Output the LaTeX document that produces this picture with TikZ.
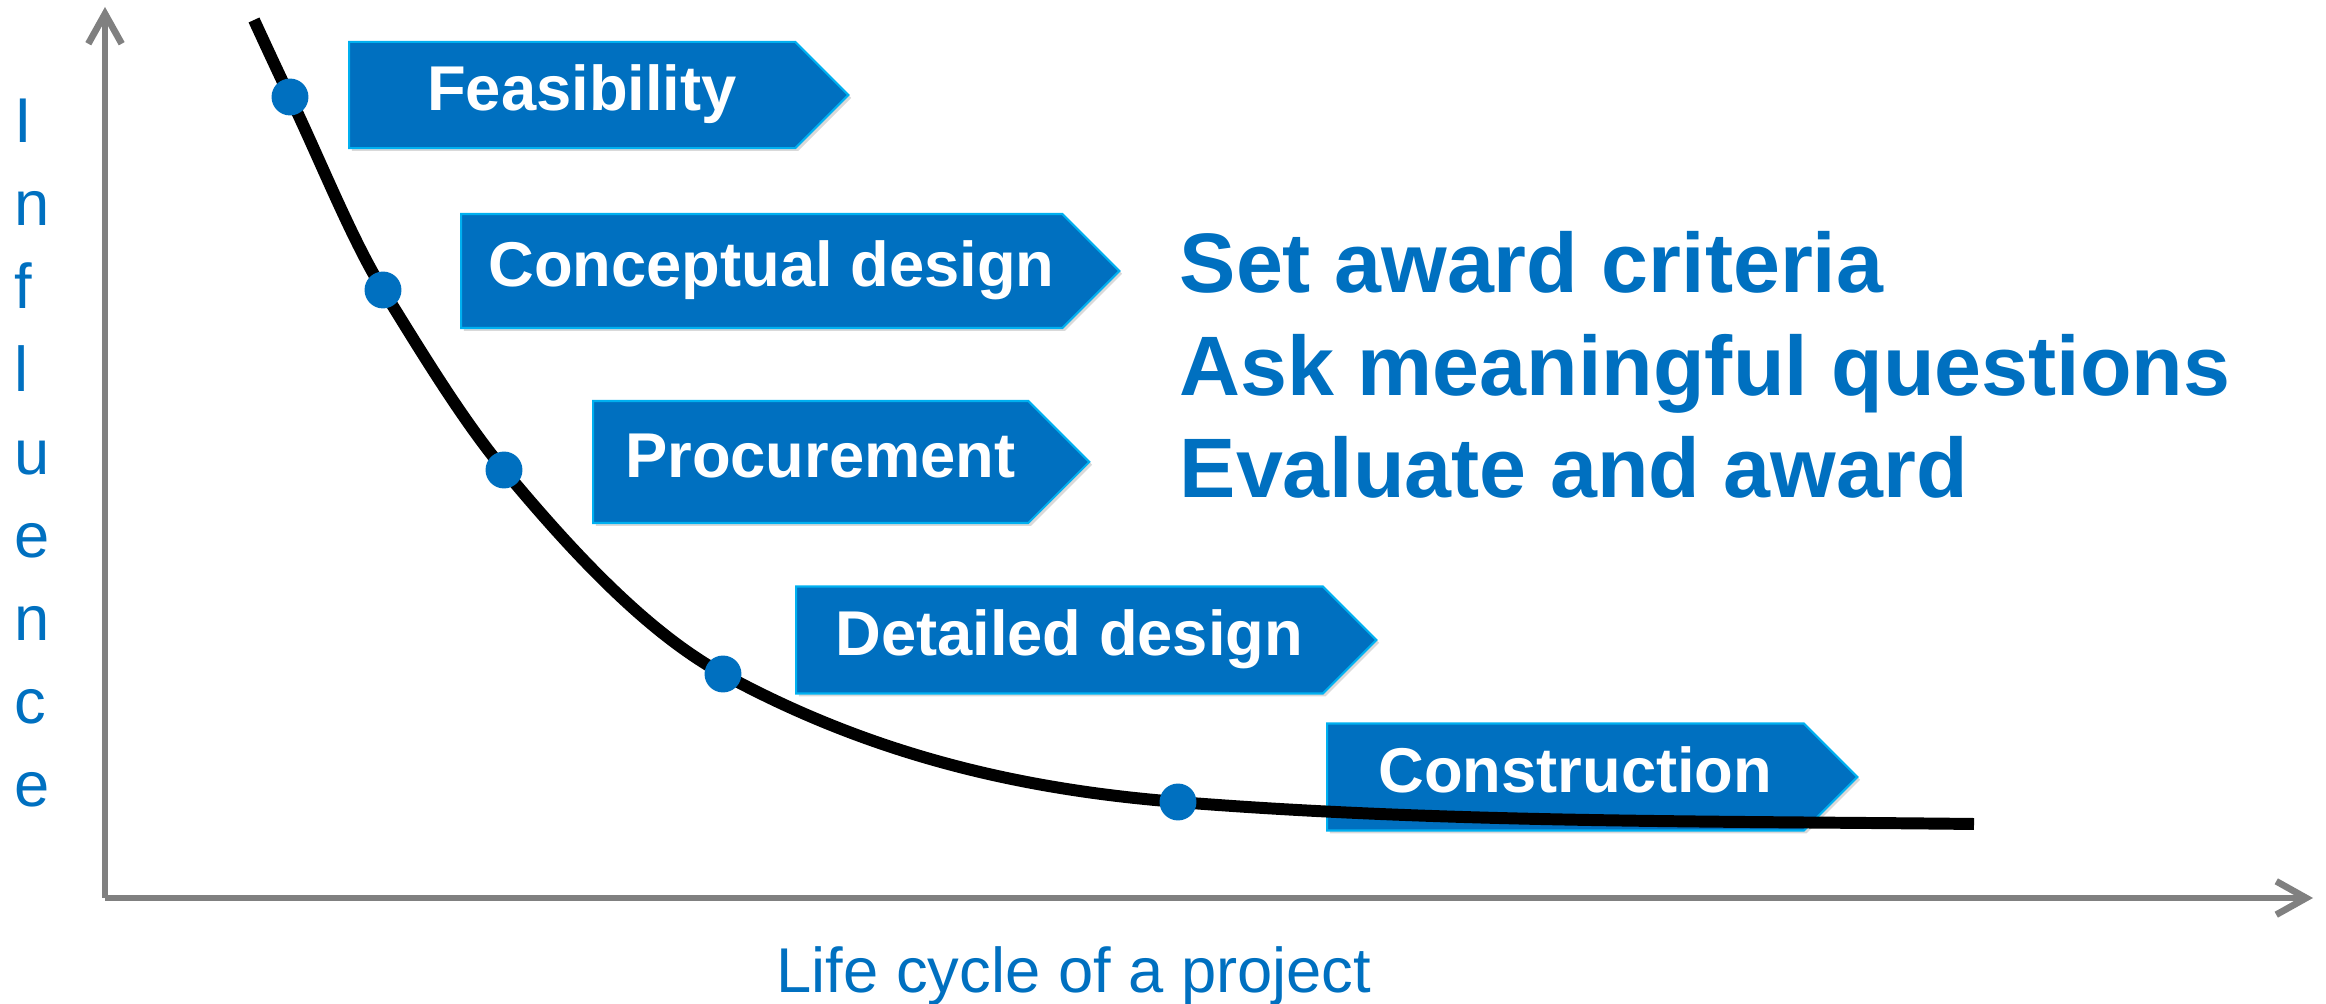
\documentclass[tikz,border=0pt]{standalone}
\usepackage{fontspec}
\setmainfont{Liberation Sans}
\usetikzlibrary{shapes.symbols,shadows,arrows.meta}
\definecolor{phaseblue}{RGB}{0,112,192}
\definecolor{phaseedge}{RGB}{0,176,240}
\definecolor{axisgray}{RGB}{128,128,128}

\begin{document}
\begin{tikzpicture}[x=0.01cm,y=-0.01cm,
  phase/.style={signal, signal to=east, signal pointer angle=90, anchor=west,
    draw=phaseedge, line width=0.6pt, fill=phaseblue, text=white,
    font=\fontsize{18}{21}\selectfont\bfseries, text height=0.88em, text depth=0em,
    inner xsep=0pt, execute at begin node=\hspace*{5.6pt},
    drop shadow={shadow xshift=0.8pt, shadow yshift=-0.8pt, opacity=0.3}},
  dot/.style={circle, fill=phaseblue, inner sep=0pt, minimum size=10.5pt},
  axis/.style={draw=axisgray, line width=1.9pt, -{Straight Barb[length=8.5pt,width=9.5pt]}},
  axislabel/.style={text=phaseblue, font=\fontsize{18}{21}\selectfont, inner sep=0pt}]
\useasboundingbox (0,0) rectangle (2326,1004);

% Axes and their labels
\coordinate (origin) at (105,898);
\coordinate (ytip) at (105,7);
\coordinate (xtip) at (2313,898);
\draw[axis] (origin) -- (ytip);
\draw[axis] (origin) -- (xtip);
\foreach \ch [count=\i from 0] in {I,n,f,l,u,e,n,c,e}
  \node[axislabel, anchor=base west] (inf\i) at (14,{143+83*\i}) {\ch};
\node[axislabel, anchor=base] (lifecycle) at (1074,993) {Life cycle of a project};

% Project phases
\node[phase, minimum width=142pt, minimum height=30.2pt] (feasibility) at (348,95) {Feasibility};
\node[phase, minimum width=187.2pt, minimum height=32.4pt] (conceptual) at (460,271) {Conceptual design};
\node[phase, minimum width=141.1pt, minimum height=34.7pt] (procurement) at (592,462) {Procurement};
\node[phase, minimum width=165pt, minimum height=30.45pt] (detailed) at (795,640) {Detailed design};
\node[phase, minimum width=150.8pt, minimum height=30.45pt] (construction) at (1326,777) {Construction};

% Influence curve
\coordinate (start) at (254,20);
\coordinate (p1) at (290,97);
\coordinate (p2) at (383,290);
\coordinate (p3) at (504,470);
\coordinate (p4) at (723,674);
\coordinate (p5) at (1178,802);
\coordinate (end) at (1974,824);
\draw[line width=3.4pt] (start) .. controls (266,46) and (278,72) .. (p1)
  .. controls (321,162) and (352,240) .. (p2)
  .. controls (423,355) and (464,422) .. (p3)
  .. controls (577,558) and (650,634) .. (p4)
  .. controls (875,757) and (1026,790) .. (p5)
  .. controls (1443,823) and (1709,821) .. (end);
\foreach \p in {p1,p2,p3,p4,p5}
  \node[dot] (dot\p) at (\p) {};

% Procurement tasks
\node[text=phaseblue, font=\fontsize{24}{29.2}\selectfont\bfseries, align=left, anchor=base west, inner sep=0pt]
  (tasks) at (1179,498) {Set award criteria\\Ask meaningful questions\\Evaluate and award};
\end{tikzpicture}
\end{document}
